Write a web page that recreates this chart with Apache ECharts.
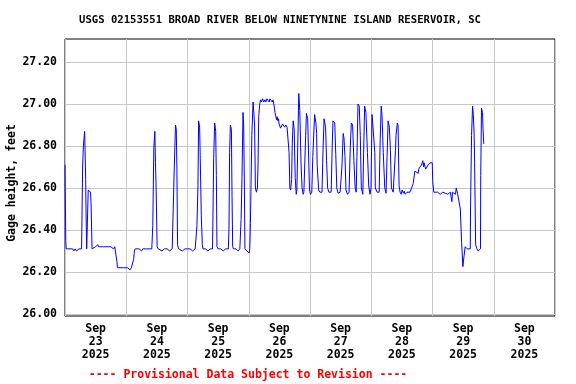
<!DOCTYPE html>
<html>
<head>
<meta charset="utf-8">
<script src="https://cdn.jsdelivr.net/npm/echarts@6/dist/echarts.min.js"></script>
<style>html,body{margin:0;padding:0;background:#fff;}#c{width:576px;height:384px;}</style>
</head>
<body>
<div id="c"></div>
<script>
// Hours since 2025-09-23 00:00 and gage height (feet)
var hours = [
 0,0.2,0.3,0.45,1,2,3,3.5,4,4.5,5,5.5,6.5,6.9,7.2,7.7,7.9,8.1,8.25,8.5,8.9,9.1,9.75,10.0,10.2,10.45,10.6,
 11,12,12.8,13.2,14,15,16,17,18,19,19.5,20.2,20.35,20.55,21,23,24.5,25.5,26,26.6,26.9,27.2,27.5,
 29,30,30.5,32,33,34,34.4,34.8,35.2,35.45,35.7,36.1,36.5,37,38,39,40,41,42,42.6,
 42.8,43.3,43.6,43.85,44.1,44.5,45,46,47,48,49,50,51,51.55,
 51.7,52.1,52.35,52.75,53,53.4,53.8,54.05,55,56,57,57.8,
 58,58.25,58.65,59.05,59.3,59.55,60,61,62,63,64,
 64.25,64.5,64.8,65.2,65.45,65.7,66,67,67.8,68.5,68.8,
 69,69.35,69.75,70,70.3,70.5,71,72.1,72.4,
 72.65,73.2,73.7,73.95,74.3,74.6,75,75.4,75.65,75.9,76.3,76.6,77,77.4,77.9,78.3,78.7,79.1,79.5,80,80.3,80.8,81.2,81.5,81.9,
 82.3,82.6,82.9,83.1,83.4,83.65,83.9,84.45,84.7,85.2,85.75,86.1,86.5,87,87.6,87.8,88.1,
 88.4,88.8,89.05,89.4,89.8,90.2,90.6,90.85,91.2,91.6,92,92.5,92.9,93.3,93.6,94.3,94.6,95.1,95.4,95.8,96.2,
 96.7,97.1,97.8,98.3,98.6,98.8,99.4,99.9,100.7,101.1,101.5,102.1,102.5,102.9,103.4,104.3,104.7,105,105.7,106.1,106.5,107,
 107.8,108.5,109,109.3,109.7,110.1,110.7,111.3,111.8,112.2,112.7,113.2,113.7,114.1,114.4,114.8,115.3,115.7,116.1,116.7,
 116.9,117.4,117.9,118.5,119,119.5,119.9,
 120.3,120.8,121.4,121.6,122.3,123.1,123.5,123.9,124.2,124.7,125.3,125.8,126.2,126.6,127.1,127.5,127.9,128.6,129.1,
 129.5,129.7,130.2,130.5,130.9,131.3,131.7,132.1,132.6,132.9,133.3,134,134.5,135.2,136.4,137.1,137.6,138.4,138.6,
 139.1,139.7,140.2,140.5,140.7,141.3,141.8,142.3,143,143.9,
 144.1,144.5,145,146,147,148,149,150,151,151.6,151.8,153,153.3,153.8,154.5,154.9,155.4,155.6,155.9,156.2,156.4,156.8,
 157.6,158.8,158.9,159.3,159.7,160,160.3,160.5,160.9,161.4,161.9,162.8,162.9,163.2,163.6,163.8,164.1
];
var gage = [
 26.71,26.71,26.35,26.31,26.31,26.31,26.31,26.30,26.31,26.30,26.30,26.31,26.31,26.70,26.80,26.87,26.87,26.64,26.48,26.31,26.31,26.59,26.59,26.58,26.53,26.53,26.31,
 26.31,26.32,26.33,26.32,26.32,26.32,26.32,26.32,26.32,26.31,26.32,26.32,26.25,26.22,26.22,26.22,26.22,26.21,26.22,26.22,26.26,26.30,26.31,
 26.31,26.30,26.31,26.31,26.31,26.31,26.42,26.79,26.87,26.72,26.60,26.32,26.31,26.31,26.30,26.31,26.31,26.30,26.31,26.31,
 26.69,26.90,26.88,26.69,26.33,26.31,26.31,26.30,26.31,26.31,26.31,26.30,26.31,26.31,
 26.42,26.61,26.92,26.89,26.74,26.47,26.33,26.31,26.31,26.30,26.31,26.31,
 26.49,26.74,26.91,26.87,26.66,26.32,26.31,26.31,26.30,26.31,26.31,
 26.40,26.77,26.90,26.88,26.56,26.32,26.31,26.31,26.30,26.31,26.31,
 26.45,26.65,26.96,26.90,26.60,26.31,26.31,26.29,26.31,
 26.43,26.85,27.01,27.01,26.90,26.60,26.58,26.60,26.72,26.94,27.00,27.02,27.01,27.025,27.01,27.02,27.01,27.025,27.02,27.01,27.025,27.02,27.01,27.02,26.995,
 26.96,26.94,26.925,26.94,26.92,26.93,26.905,26.885,26.89,26.905,26.905,26.89,26.90,26.89,26.89,26.77,26.60,
 26.59,26.64,26.81,26.92,26.88,26.65,26.57,26.59,26.80,27.05,26.97,26.71,26.60,26.57,26.58,26.85,26.955,26.93,26.78,26.59,26.57,
 26.58,26.75,26.95,26.91,26.86,26.71,26.59,26.58,26.58,26.78,26.93,26.89,26.73,26.60,26.58,26.58,26.80,26.92,26.91,26.76,26.60,26.575,
 26.58,26.70,26.86,26.84,26.75,26.59,26.57,26.58,26.80,26.91,26.90,26.73,26.60,26.58,26.75,27.00,26.99,26.85,26.60,26.57,
 26.70,26.99,26.96,26.77,26.61,26.57,26.60,
 26.95,26.955,26.77,26.60,26.58,26.58,26.83,26.99,26.95,26.77,26.60,26.575,26.75,26.92,26.89,26.78,26.60,26.58,26.58,
 26.78,26.85,26.91,26.90,26.61,26.58,26.57,26.59,26.575,26.585,26.57,26.58,26.575,26.58,26.62,26.68,26.68,26.67,26.69,
 26.70,26.71,26.73,26.70,26.72,26.69,26.70,26.71,26.72,26.72,
 26.63,26.58,26.575,26.58,26.57,26.58,26.575,26.57,26.58,26.535,26.58,26.57,26.60,26.575,26.58,26.50,26.34,26.30,26.225,26.225,26.28,26.32,
 26.31,26.31,26.50,26.85,26.99,26.95,26.86,26.72,26.33,26.31,26.30,26.31,26.66,26.98,26.96,26.88,26.81
];
var dayLabels = ['23','24','25','26','27','28','29','30'];
var monthLabel = 'Sep';
var yearLabel = '2025';
var yTicks = [26.0, 26.2, 26.4, 26.6, 26.8, 27.0, 27.2];
var titleText = 'USGS 02153551 BROAD RIVER BELOW NINETYNINE ISLAND RESERVOIR, SC';
var yName = 'Gage height, feet';
var footText = '---- Provisional Data Subject to Revision ----';

var HOUR = 3600000, DAY = 24 * HOUR;
var t0 = Date.UTC(2025, 8, 23);
var data = hours.map(function (h, i) { return [t0 + h * HOUR, gage[i]]; });
var midnights = [], noons = [];
for (var d = 0; d <= dayLabels.length; d++) midnights.push(t0 + d * DAY);
for (var d2 = 0; d2 < dayLabels.length; d2++) noons.push(t0 + d2 * DAY + 12 * HOUR);

var FONT = 'DejaVu Sans Mono';
var chart = echarts.init(document.getElementById('c'), null, { renderer: 'canvas' });
chart.setOption({
  animation: false,
  backgroundColor: '#ffffff',
  grid: { left: 65, right: 21, top: 39, bottom: 68, show: true, borderColor: '#000', borderWidth: 1, backgroundColor: '#fff' },
  xAxis: {
    type: 'value', min: t0, max: t0 + dayLabels.length * DAY,
    axisLine: { show: false },
    axisTick: { show: false, customValues: midnights },
    splitLine: { show: true, lineStyle: { color: '#c8c8c8', width: 1 } },
    axisLabel: {
      customValues: noons, margin: 7, color: '#000', fontFamily: FONT, fontWeight: 'bold', fontSize: 11.5, lineHeight: 13,
      formatter: function (v) {
        var idx = Math.round((v - t0 - 12 * HOUR) / DAY);
        return monthLabel + '\n' + dayLabels[idx] + '\n' + yearLabel;
      }
    }
  },
  yAxis: {
    type: 'value', min: 25.99, max: 27.31,
    axisLine: { show: false },
    axisTick: { show: false, customValues: yTicks },
    splitLine: { show: true, lineStyle: { color: '#c8c8c8', width: 1 } },
    axisLabel: {
      customValues: yTicks, margin: 8, color: '#000', fontFamily: FONT, fontWeight: 'bold', fontSize: 11.5,
      formatter: function (v) { return v.toFixed(2); }
    }
  },
  graphic: [
    { type: 'text', x: 280, y: 20, style: { text: titleText, fill: '#000', font: 'bold 10.6px "DejaVu Sans Mono"', align: 'center', verticalAlign: 'middle', textAlign: 'center', textVerticalAlign: 'middle' } },
    { type: 'text', x: 12, y: 183, rotation: Math.PI / 2, style: { text: yName, fill: '#000', font: 'bold 11.5px "DejaVu Sans Mono"', align: 'center', verticalAlign: 'middle', textAlign: 'center', textVerticalAlign: 'middle' } },
    { type: 'text', x: 248, y: 375, style: { text: footText, fill: '#ff0000', font: 'bold 11.5px "DejaVu Sans Mono"', align: 'center', verticalAlign: 'middle', textAlign: 'center', textVerticalAlign: 'middle' } }
  ],
  series: [{
    type: 'line', data: data, showSymbol: false, symbol: 'none',
    lineStyle: { color: '#0000ff', width: 1 }, z: 3
  }]
});
</script>
</body>
</html>
